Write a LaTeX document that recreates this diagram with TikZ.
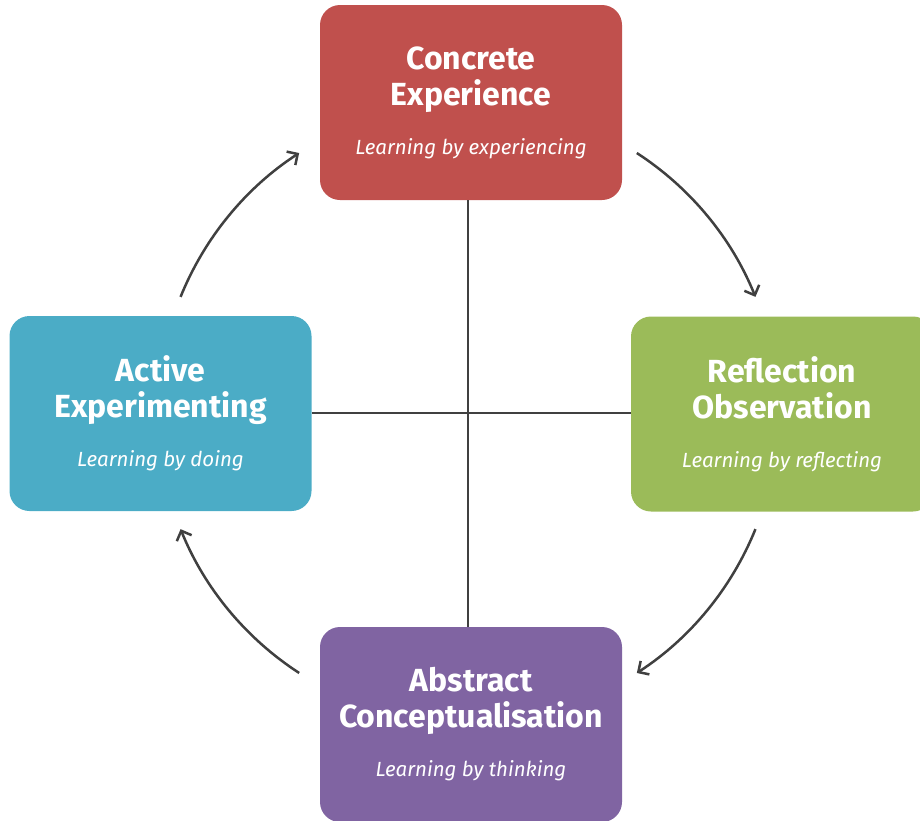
\documentclass[tikz,border=0pt]{standalone}
\usepackage{fontspec}
\setmainfont{Fira Sans}
\usepackage{tikz}
\usetikzlibrary{arrows.meta, positioning, calc}
\definecolor{ceRed}{HTML}{C0504D}
\definecolor{roGreen}{HTML}{9BBB59}
\definecolor{acPurple}{HTML}{8064A2}
\definecolor{aeTeal}{HTML}{4BACC6}
\definecolor{lineGray}{HTML}{404040}
\newcommand{\stagesub}[1]{{\fontsize{20.5}{22}\selectfont\mdseries\itshape #1}}
\tikzset{
    stage/.style={rectangle, rounded corners=20pt, minimum width=302pt, minimum height=195pt, text=white, align=center, inner sep=0pt, font=\fontsize{32}{36}\selectfont\bfseries},
    axisline/.style={lineGray, line width=2.5pt},
    arrow/.style={lineGray, line width=2.5pt, -{Straight Barb[length=8pt, width=16pt]}}
}

\begin{document}
\begin{tikzpicture}[x=1pt, y=-1pt]
            \clip (0,0) rectangle (920,820);
            \useasboundingbox (0,0) rectangle (920,820);

            \coordinate (hub) at (468,413);

            \node[stage, fill=ceRed] (concrete) at (471,102.5) {Concrete\\Experience\\[13pt]\stagesub{Learning by experiencing}};
            \node[stage, fill=roGreen] (reflect) at (782,414) {Reflection\\Observation\\[13pt]\stagesub{Learning by reflecting}};
            \node[stage, fill=acPurple] (abstract) at (471,724.5) {Abstract\\Conceptualisation\\[13pt]\stagesub{Learning by thinking}};
            \node[stage, fill=aeTeal] (active) at (160.5,413.5) {Active\\Experimenting\\[13pt]\stagesub{Learning by doing}};

            % the two axes through the hub
            \draw[axisline] (concrete.south -| hub) -- (abstract.north -| hub);
            \draw[axisline] (active.east |- hub) -- (reflect.west |- hub);

            % the cycle, arcs round the hub
            \draw[arrow] ($(hub)+(-57:310)$) arc[start angle=-57, end angle=-22, radius=310];
            \draw[arrow] ($(hub)+(22:310)$) arc[start angle=22, end angle=57, radius=310];
            \draw[arrow] ($(hub)+(123:310)$) arc[start angle=123, end angle=158, radius=310];
            \draw[arrow] ($(hub)+(-158:310)$) arc[start angle=-158, end angle=-123, radius=310];

        \end{tikzpicture}
\end{document}
